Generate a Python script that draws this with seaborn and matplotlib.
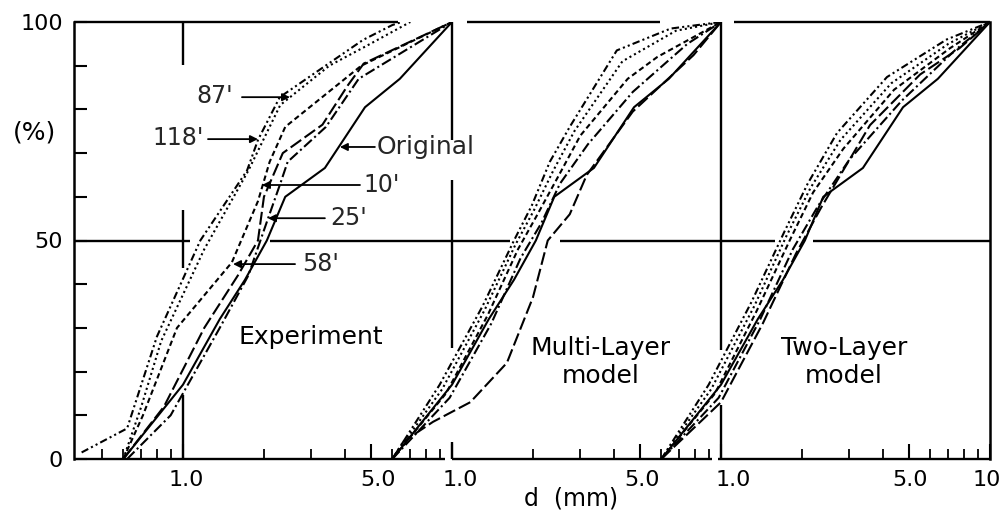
import numpy as np
import pandas as pd
import matplotlib
matplotlib.use("Agg")
import matplotlib.pyplot as plt
import matplotlib.ticker as mticker
import matplotlib.transforms as mtransforms
import seaborn as sns

# ---------------- data (d in mm within each panel, % finer) ----------------
series = ["Original", "10'", "25'", "58'", "87'", "118'"]
panel_names = ["Experiment", "Multi-Layer\nmodel", "Two-Layer\nmodel"]
panel_shift = [1, 10, 100]   # each panel sits one decade further along the shared log axis

original_d = [0.6, 1.0, 1.37, 1.7, 2.05, 2.4, 3.37, 4.75, 6.4, 10.0]
original_p = [0, 17, 32, 41, 50, 60, 66.6, 80.5, 87, 100]

# Experiment
exp_10_d = [0.6, 0.85, 1.2, 1.6, 1.9, 2.0, 2.35, 3.3, 4.1, 4.7, 10.0]
exp_10_p = [0, 12, 30, 42, 50, 60, 70, 76.5, 85.5, 90.5, 100]
exp_25_d = [0.62, 0.9, 1.37, 1.75, 2.07, 2.3, 2.45, 3.4, 4.5, 10.0]
exp_25_p = [0, 10, 30, 42, 55, 63, 68, 76, 87, 100]
exp_58_d = [0.6, 0.71, 0.95, 1.52, 1.9, 2.1, 2.4, 4.6, 10.0]
exp_58_p = [0, 10, 30, 45, 59, 68, 76, 90, 100]
exp_87_d = [0.6, 0.7, 0.83, 1.2, 1.75, 2.3, 3.5, 4.8, 7.0]
exp_87_p = [0, 12, 27, 48, 66, 81, 90, 94.5, 100]
exp_118_d = [0.42, 0.62, 0.8, 1.16, 1.73, 1.9, 2.29, 4.67, 6.0, 6.5]
exp_118_p = [1.5, 7, 28, 50, 66, 73, 82.8, 95.9, 99.3, 100]

# Multi-Layer model
ml_10_d = [0.6, 0.66, 0.85, 1.17, 1.6, 2.0, 2.27, 2.74, 3.17, 4.7, 7.9, 10.0]
ml_10_p = [0, 4, 8.5, 13, 22, 37, 50, 56, 65, 79.5, 92.4, 100]
ml_25_d = [0.6, 0.98, 1.4, 1.8, 2.15, 2.52, 3.2, 4.7, 7.5, 10.0]
ml_25_p = [0, 14, 31, 46, 54, 63, 72, 84, 95, 100]
ml_58_d = [0.6, 0.95, 1.36, 1.76, 2.08, 2.45, 3.0, 4.5, 5.8, 10.0]
ml_58_p = [0, 15, 33, 48, 56, 64, 74, 87, 92, 100]
ml_87_d = [0.6, 0.92, 1.32, 1.72, 2.02, 2.38, 2.85, 4.3, 6.8, 10.0]
ml_87_p = [0, 16, 34, 49, 57, 66, 75, 91, 98, 100]
ml_118_d = [0.6, 0.9, 1.3, 1.7, 1.98, 2.31, 2.74, 4.1, 6.5, 10.0]
ml_118_p = [0, 17, 35, 50, 58, 68, 76, 93.5, 98.5, 100]

# Two-Layer model
tl_10_d = [0.6, 1.0, 1.43, 1.9, 2.35, 3.58, 5.5, 7.7, 10.0]
tl_10_p = [0, 13, 31, 47, 57.4, 76.4, 88, 94, 100]
tl_25_d = [0.6, 0.98, 1.4, 1.85, 2.3, 3.0, 4.7, 7.4, 10.0]
tl_25_p = [0, 14, 32, 48, 58, 68.5, 82, 93.5, 100]
tl_58_d = [0.6, 0.95, 1.36, 1.8, 2.2, 2.85, 4.4, 7.1, 10.0]
tl_58_p = [0, 15, 34, 50, 61, 71, 84.5, 94, 100]
tl_87_d = [0.6, 0.92, 1.33, 1.75, 2.15, 2.78, 4.3, 7.0, 10.0]
tl_87_p = [0, 16, 35, 51, 62, 73, 86, 95, 100]
tl_118_d = [0.6, 0.9, 1.3, 1.72, 2.1, 2.7, 4.14, 6.9, 10.0]
tl_118_p = [0, 17, 36, 52, 63, 74.6, 87.4, 96, 100]

x_major = [1, 5, 10, 50, 100, 500, 1000]
x_major_labels = ["1.0", "5.0", "1.0", "5.0", "1.0", "5.0", "10"]
x_minor = [0.5, 0.6, 0.7, 0.8, 0.9, 2, 3, 4, 6, 7, 8, 9,
           20, 30, 40, 60, 70, 80, 90, 200, 300, 400, 600, 700, 800, 900]
y_major = [0, 50, 100]
y_major_labels = ["0", "50", "100"]
y_minor = [10, 20, 30, 40, 60, 70, 80, 90]

panel_data = [
    {"Original": (original_d, original_p), "10'": (exp_10_d, exp_10_p), "25'": (exp_25_d, exp_25_p),
     "58'": (exp_58_d, exp_58_p), "87'": (exp_87_d, exp_87_p), "118'": (exp_118_d, exp_118_p)},
    {"Original": (original_d, original_p), "10'": (ml_10_d, ml_10_p), "25'": (ml_25_d, ml_25_p),
     "58'": (ml_58_d, ml_58_p), "87'": (ml_87_d, ml_87_p), "118'": (ml_118_d, ml_118_p)},
    {"Original": (original_d, original_p), "10'": (tl_10_d, tl_10_p), "25'": (tl_25_d, tl_25_p),
     "58'": (tl_58_d, tl_58_p), "87'": (tl_87_d, tl_87_p), "118'": (tl_118_d, tl_118_p)},
]

rows = []
for k, pdict in enumerate(panel_data):
    for s in series:
        d, p = pdict[s]
        for i, (dv, pv) in enumerate(zip(d, p)):
            rows.append({"panel": k, "series": s, "order": i,
                         "x": dv * panel_shift[k], "pct": pv})
df = pd.DataFrame(rows)

# ---------------- style ----------------
sns.set_theme(style="white")
plt.rcParams["font.family"] = ["DejaVu Sans"]

fig = plt.figure(figsize=(10.05, 5.16), dpi=100)
ax = fig.add_axes([74 / 1005, 57 / 516, 916 / 1005, 437 / 516])

dash_map = {"Original": "", "10'": (6.2, 2.0), "25'": (5.0, 1.6, 1.0, 1.6),
            "58'": (2.6, 1.6), "87'": (1.0, 1.5), "118'": (3.6, 1.5, 1.0, 1.5, 1.0, 1.5)}
sns.lineplot(data=df, x="x", y="pct", hue="series", style="series", units="panel",
             estimator=None, sort=False, palette={s: "black" for s in series},
             dashes=dash_map, linewidth=1.5, legend=False, ax=ax, zorder=3)

ax.set_xscale("log")
ax.set_xlim(0.3935, 1000)
ax.set_ylim(0, 100)

# frame
for side in ["top", "bottom"]:
    ax.spines[side].set_visible(False)
for side in ["left", "right"]:
    ax.spines[side].set_color("black")
    ax.spines[side].set_linewidth(1.8)

lk = dict(color="black", lw=1.7, solid_capstyle="butt", zorder=2, clip_on=False)
for a, b in [(0, 0.354), (0.429, 0.640), (0.721, 1.0)]:
    ax.axhline(100, a, b, **lk)
for a, b in [(0, 0.405), (0.413, 0.697), (0.703, 1.0)]:
    ax.axhline(0, a, b, **lk)
for a, b in [(0, 0.1266), (0.214, 0.476), (0.531, 0.765), (0.807, 1.0)]:
    ax.axhline(50, a, b, **lk)
for a, b in [(0, 0.146), (0.437, 0.570), (0.902, 1.0)]:
    ax.axvline(1, a, b, **lk)
for a, b in [(0, 0.039), (0.254, 0.638), (0.730, 1.0)]:
    ax.axvline(10, a, b, **lk)
for a, b in [(0, 0.124), (0.249, 1.0)]:
    ax.axvline(100, a, b, **lk)

# ticks
ax.set_xticks(x_major)
ax.set_xticklabels(x_major_labels)
ax.set_xticks(x_minor, minor=True)
ax.xaxis.set_minor_formatter(mticker.NullFormatter())
ax.set_yticks(y_major)
ax.set_yticklabels(y_major_labels)
ax.set_yticks(y_minor, minor=True)
ax.tick_params(axis="x", which="major", direction="in", length=11, width=1.5,
               labelsize=16, pad=8, colors="black", bottom=True, top=False)
ax.tick_params(axis="x", which="minor", direction="in", length=7.5, width=1.3,
               bottom=True, top=False, colors="black")
ax.tick_params(axis="y", which="both", direction="in", length=9.5, width=1.5,
               labelsize=16, pad=8, left=True, right=False, colors="black")

offsets_px = [3, 7, 8, 2, 12, 1, -3]
for lab, dx in zip(ax.get_xticklabels(), offsets_px):
    lab.set_transform(lab.get_transform() +
                      mtransforms.ScaledTranslation(dx / 100, 0, fig.dpi_scale_trans))

ax.set_xlabel("d  (mm)", fontsize=17, color="black")
ax.xaxis.set_label_coords(0.5426, -0.0915)
ax.xaxis.label.set_va("center")
ax.set_ylabel("")
ax.text(-0.0426, 0.748, "(%)", transform=ax.transAxes, ha="center", va="center",
        fontsize=18, color="black")

# curve labels with arrows
lab_fs = 17
arrow = dict(arrowstyle="-|>", color="black", lw=1.3, mutation_scale=11,
             shrinkA=0, shrinkB=0)
ax.text(1.315, 83.1, "87'", ha="center", va="center", fontsize=lab_fs)
ax.annotate("", xy=(2.50, 82.8), xytext=(1.657, 82.8), arrowprops=arrow)
ax.text(0.958, 73.5, "118'", ha="center", va="center", fontsize=lab_fs)
ax.annotate("", xy=(1.90, 73.2), xytext=(1.239, 73.2), arrowprops=arrow)
ax.text(5.26, 71.4, "Original", ha="left", va="center", fontsize=18)
ax.annotate("", xy=(3.83, 71.4), xytext=(5.17, 71.4), arrowprops=arrow)
ax.text(4.67, 62.7, "10'", ha="left", va="center", fontsize=lab_fs)
ax.annotate("", xy=(1.966, 62.7), xytext=(4.55, 62.7), arrowprops=arrow)
ax.text(3.52, 55.1, "25'", ha="left", va="center", fontsize=lab_fs)
ax.annotate("", xy=(2.07, 55.1), xytext=(3.37, 55.1), arrowprops=arrow)
ax.text(2.77, 44.6, "58'", ha="left", va="center", fontsize=lab_fs)
ax.annotate("", xy=(1.535, 44.6), xytext=(2.61, 44.6), arrowprops=arrow)

# panel titles
title_pos = [(2.99, 27.9), (35.8, 22.2), (287.0, 22.2)]
for name, (tx, ty) in zip(panel_names, title_pos):
    ax.text(tx, ty, name, ha="center", va="center", fontsize=18,
            linespacing=1.2, color="black")

fig.savefig("out.png", dpi=100, facecolor="white")
